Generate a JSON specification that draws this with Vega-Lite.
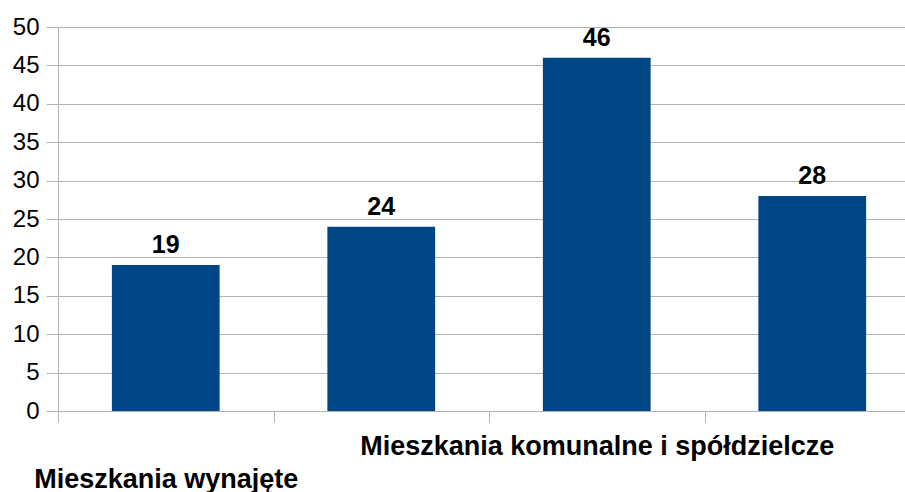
{
  "$schema": "https://vega.github.io/schema/vega-lite/v6.json",
  "width": 862,
  "height": 384,
  "autosize": {"type": "none"},
  "padding": {"left": 58, "top": 27, "right": 0, "bottom": 81},
  "background": "white",
  "config": {"view": {"stroke": null}, "font": "Liberation Sans"},
  "data": {"values": [
    {"kategoria": "Mieszkania wynajęte", "wartosc": 19},
    {"kategoria": " ", "wartosc": 24},
    {"kategoria": "Mieszkania komunalne i spółdzielcze", "wartosc": 46},
    {"kategoria": "  ", "wartosc": 28}
  ]},
  "encoding": {
    "x": {
      "field": "kategoria", "type": "nominal", "sort": null,
      "scale": {"paddingInner": 0, "paddingOuter": 0},
      "axis": {
        "title": null, "labelAngle": 0, "tickBand": "extent",
        "domainColor": "#b3b3b3", "tickColor": "#b3b3b3", "tickSize": 11,
        "labelFont": "Liberation Sans", "labelFontSize": 27, "labelFontWeight": "bold", "labelColor": "#000000",
        "labelBaseline": "top", "labelOverlap": false, "labelLimit": 0,
        "labelPadding": {"condition": {"test": "datum.value == 'Mieszkania wynajęte'", "value": 44}, "value": 11}
      }
    },
    "y": {
      "field": "wartosc", "type": "quantitative",
      "scale": {"domain": [0, 50], "nice": false},
      "axis": {
        "title": null, "values": [0, 5, 10, 15, 20, 25, 30, 35, 40, 45, 50],
        "grid": true, "gridColor": "#b3b3b3", "domainColor": "#b3b3b3", "tickColor": "#b3b3b3", "tickSize": 12,
        "labelFont": "Liberation Sans", "labelFontSize": 24, "labelColor": "#000000", "labelPadding": 7
      }
    }
  },
  "layer": [
    {"mark": {"type": "bar", "color": "#004586", "width": {"band": 0.5}}},
    {"mark": {"type": "text", "baseline": "alphabetic", "dy": -12, "font": "Liberation Sans", "fontSize": 25, "fontWeight": "bold", "color": "#000000"},
     "encoding": {"text": {"field": "wartosc", "type": "quantitative"}}}
  ]
}
